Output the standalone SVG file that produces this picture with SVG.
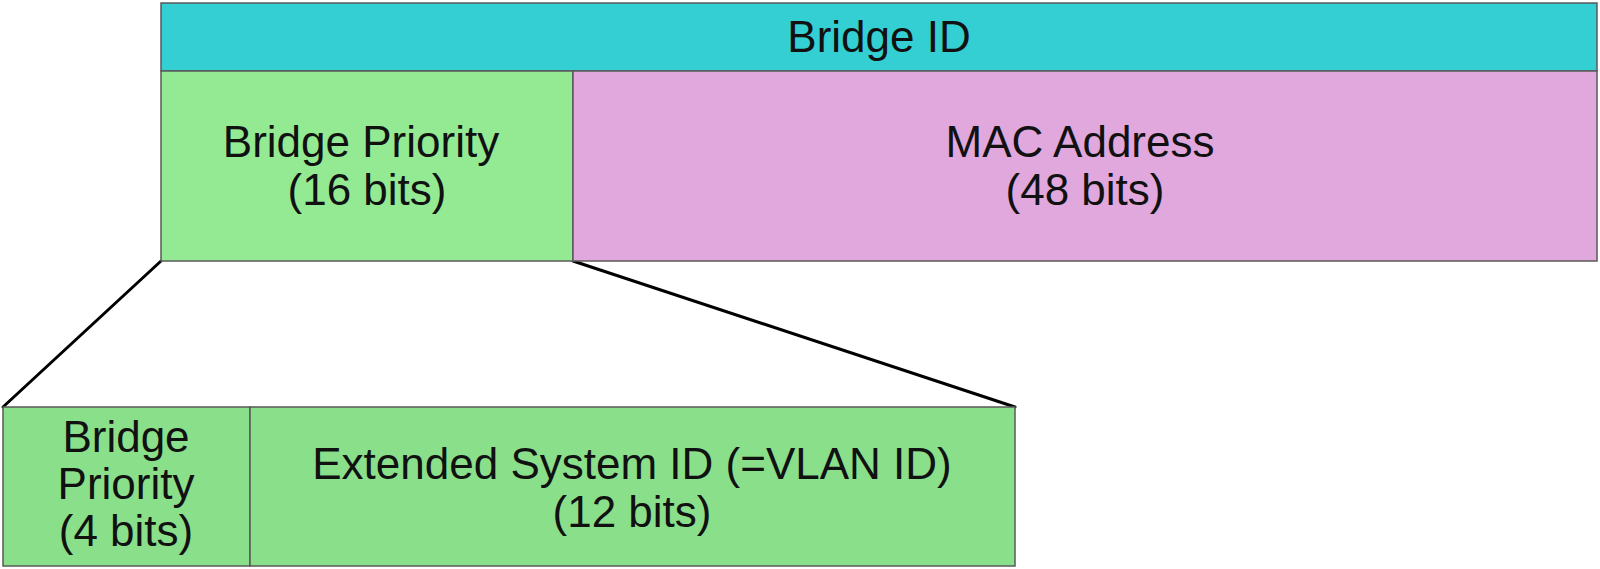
<svg xmlns="http://www.w3.org/2000/svg" width="1600" height="569" viewBox="0 0 1600 569">
<style>
.box{stroke:#5a5a5a;stroke-width:1.5}
.t{font-family:"Liberation Sans",Arial,sans-serif;font-size:44px;fill:#111;text-anchor:middle}
.c{stroke:#000;stroke-width:3;fill:none;stroke-linecap:round}
</style>
<rect width="1600" height="569" fill="#fff"/>
<g id="connectors">
<line class="c" x1="161" y1="261" x2="3" y2="407"/>
<line class="c" x1="573" y1="261" x2="1015" y2="407"/>
</g>
<g id="bridge-id">
<rect class="box" x="161" y="3" width="1436" height="68" fill="#33CFD3"/>
<text class="t" x="879" y="52">Bridge ID</text>
</g>
<g id="bridge-priority-16">
<rect class="box" x="161" y="71" width="412" height="190" fill="#93EA93"/>
<text class="t" x="361" y="157">Bridge Priority</text>
<text class="t" x="367" y="205">(16 bits)</text>
</g>
<g id="mac-address">
<rect class="box" x="573" y="71" width="1024" height="190" fill="#E0A8DC"/>
<text class="t" x="1080" y="157">MAC Address</text>
<text class="t" x="1085" y="205">(48 bits)</text>
</g>
<g id="bridge-priority-4">
<rect class="box" x="3" y="407" width="247" height="159" fill="#8ADF8A"/>
<text class="t" x="126" y="452">Bridge</text>
<text class="t" x="126" y="499">Priority</text>
<text class="t" x="126" y="546">(4 bits)</text>
</g>
<g id="extended-system-id">
<rect class="box" x="250" y="407" width="765" height="159" fill="#8ADF8A"/>
<text class="t" x="632" y="479">Extended System ID (=VLAN ID)</text>
<text class="t" x="632" y="527">(12 bits)</text>
</g>
</svg>
